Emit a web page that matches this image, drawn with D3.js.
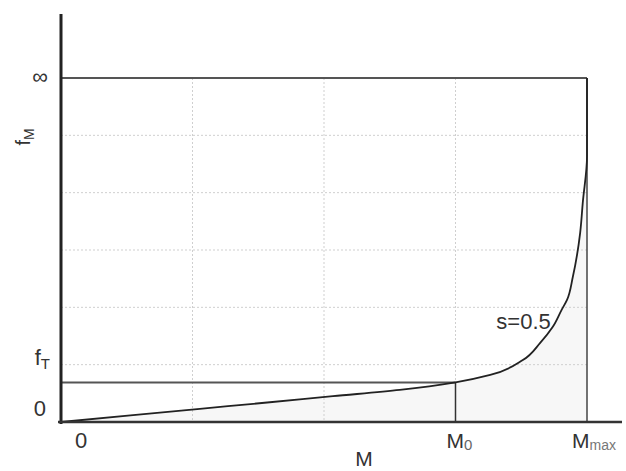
<!DOCTYPE html>
<html lang="en">
<head>
    <meta charset="UTF-8">
    <title>f_M versus M</title>
    <script src="https://d3js.org/d3.v7.min.js"></script>
    <style>
        body { margin: 0; background: #fff; }
        svg { display: block; font-family: "Liberation Sans", Arial, sans-serif; }
    </style>
</head>
<body>
    <div id="chart"></div>

    <script>
        // Curve s=0.5 (M as fraction of Mmax, f in grid units)
        const curveM = [0, 0.137, 0.264, 0.392, 0.517, 0.644, 0.75, 0.816, 0.878, 0.911, 0.935, 0.952, 0.962, 0.973, 0.987, 0.992, 1.0, 1.0];
        const curveF = [0, 0.12, 0.23, 0.34, 0.45, 0.56, 0.69, 0.82, 1.08, 1.38, 1.66, 1.96, 2.13, 2.53, 3.30, 3.83, 4.63, 6.0];

        const M0 = 0.75;
        const Mmax = 1.0;
        const fT = 0.69;
        const fInf = 6;

        const xGrid = [0.25, 0.5, 0.75];
        const yGrid = [1, 2, 3, 4, 5];

        const curveLabel = "s=0.5";

        const width = 626, height = 471;

        const svg = d3.select('#chart')
            .append('svg')
            .attr('width', width)
            .attr('height', height);

        const x = d3.scaleLinear().domain([0, Mmax]).range([61, 587]);
        const y = d3.scaleLinear().domain([0, fInf]).range([422, 78]);

        const pts = curveM.map((m, i) => [m, curveF[i]]);

        const line = d3.line()
            .x(d => x(d[0]))
            .y(d => y(d[1]))
            .curve(d3.curveMonotoneY);

        // faint shading under the curve
        svg.append('path')
            .attr('d', line(pts) + `L${x(Mmax)},${y(0)}L${x(0)},${y(0)}Z`)
            .style('fill', '#f7f7f7')
            .style('stroke', 'none');

        // Dotted grid
        svg.append('g').selectAll('line')
            .data(xGrid)
            .join('line')
            .attr('x1', d => x(d)).attr('x2', d => x(d))
            .attr('y1', y(fInf)).attr('y2', y(0))
            .style('stroke', '#cfcfcf')
            .style('stroke-width', 1)
            .style('stroke-dasharray', '2,2');

        svg.append('g').selectAll('line')
            .data(yGrid)
            .join('line')
            .attr('x1', x(0)).attr('x2', x(Mmax))
            .attr('y1', d => y(d)).attr('y2', d => y(d))
            .style('stroke', '#cfcfcf')
            .style('stroke-width', 1)
            .style('stroke-dasharray', '2,2');

        // top (infinity) line and right edge at Mmax
        svg.append('line')
            .attr('x1', x(0)).attr('x2', x(Mmax))
            .attr('y1', y(fInf)).attr('y2', y(fInf))
            .style('stroke', '#555').style('stroke-width', 2);

        svg.append('line')
            .attr('x1', x(Mmax)).attr('x2', x(Mmax))
            .attr('y1', y(fInf)).attr('y2', y(0))
            .style('stroke', '#444').style('stroke-width', 1.5);

        // f_T level and M0 drop line
        svg.append('line')
            .attr('x1', x(0)).attr('x2', x(M0))
            .attr('y1', y(fT)).attr('y2', y(fT))
            .style('stroke', '#555').style('stroke-width', 2);

        svg.append('line')
            .attr('x1', x(M0)).attr('x2', x(M0))
            .attr('y1', y(fT)).attr('y2', y(0))
            .style('stroke', '#333').style('stroke-width', 1.5);

        // the curve
        svg.append('path')
            .attr('d', line(pts))
            .style('fill', 'none')
            .style('stroke', '#222')
            .style('stroke-width', 1.8);

        // axes
        svg.append('line')
            .attr('x1', x(0)).attr('x2', x(0))
            .attr('y1', 14).attr('y2', y(0) + 2)
            .style('stroke', '#222').style('stroke-width', 3);

        svg.append('line')
            .attr('x1', x(0) - 3).attr('x2', 622)
            .attr('y1', y(0)).attr('y2', y(0))
            .style('stroke', '#333').style('stroke-width', 2.5);

        // y labels
        svg.append('text')
            .attr('x', x(0) - 13).attr('y', y(fInf) + 6)
            .attr('text-anchor', 'end')
            .style('font-size', '22px').style('fill', '#333')
            .text('\u221E');

        const ftLabel = svg.append('text')
            .attr('x', x(0) - 11).attr('y', y(fT) - 17)
            .attr('text-anchor', 'end')
            .style('font-size', '22px').style('fill', '#333');
        ftLabel.append('tspan').text('f');
        ftLabel.append('tspan').attr('dy', 4).style('font-size', '15px').text('T');

        svg.append('text')
            .attr('x', x(0) - 15).attr('y', y(0) - 6)
            .attr('text-anchor', 'end')
            .style('font-size', '22px').style('fill', '#333')
            .text('0');

        const fmLabel = svg.append('text')
            .attr('transform', 'translate(30,137) rotate(-90)')
            .attr('text-anchor', 'middle')
            .style('font-size', '20px').style('fill', '#333');
        fmLabel.append('tspan').text('f');
        fmLabel.append('tspan').attr('dy', 4).style('font-size', '14px').text('M');

        // x labels
        svg.append('text')
            .attr('x', x(0) + 20).attr('y', y(0) + 26)
            .attr('text-anchor', 'middle')
            .style('font-size', '22px').style('fill', '#333')
            .text('0');

        const m0Label = svg.append('text')
            .attr('x', x(M0) - 9).attr('y', y(0) + 26)
            .style('font-size', '21px').style('fill', '#333');
        m0Label.append('tspan').text('M');
        m0Label.append('tspan').attr('dy', 2).style('font-size', '15px').style('fill', '#666').text('0');

        const mmLabel = svg.append('text')
            .attr('x', x(Mmax) - 15).attr('y', y(0) + 26)
            .style('font-size', '21px').style('fill', '#333');
        mmLabel.append('tspan').text('M');
        mmLabel.append('tspan').attr('dy', 2).style('font-size', '14px').style('fill', '#777').text('max');

        svg.append('text')
            .attr('x', (x(0) + x(Mmax)) / 2 + 40).attr('y', 466)
            .attr('text-anchor', 'middle')
            .style('font-size', '21px').style('fill', '#333')
            .text('M');

        // curve label
        svg.append('text')
            .attr('x', x(0.935) - 2).attr('y', y(1.66) + 2)
            .attr('text-anchor', 'end')
            .style('font-size', '22px').style('fill', '#333')
            .text(curveLabel);
    </script>
</body>
</html>
